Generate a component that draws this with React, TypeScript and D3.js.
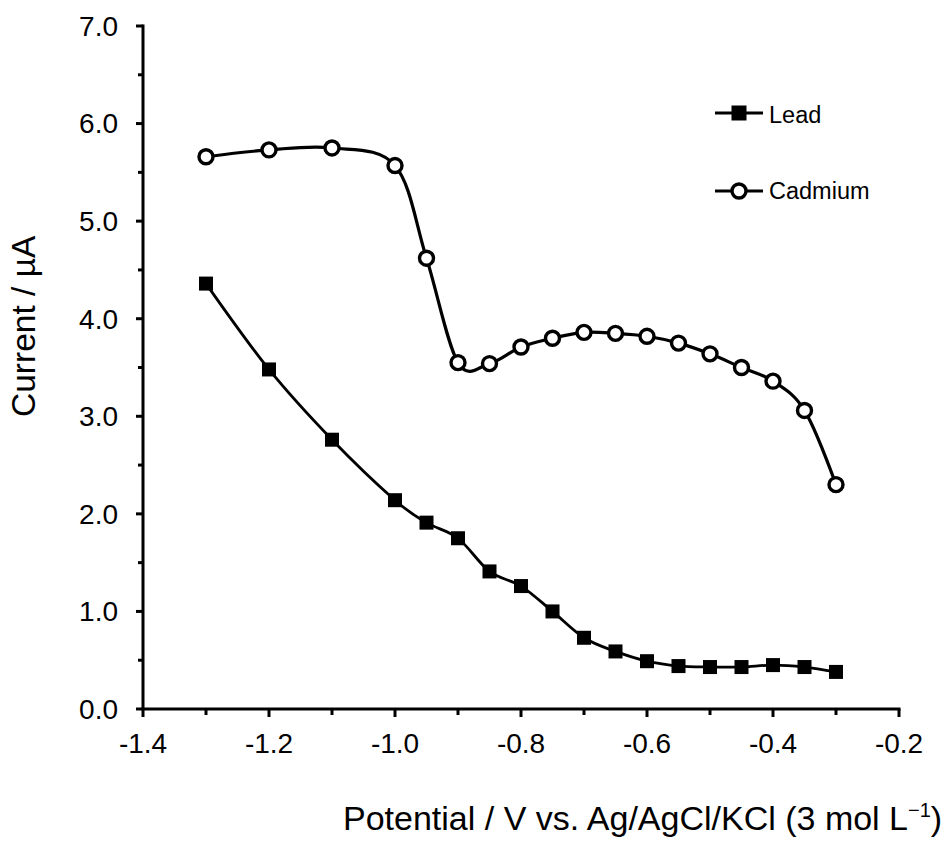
import React from "react";
import * as d3 from "d3";

// Potential (V vs. Ag/AgCl/KCl) at which each current was recorded
const potentials = [-1.3, -1.2, -1.1, -1.0, -0.95, -0.9, -0.85, -0.8, -0.75, -0.7, -0.65, -0.6, -0.55, -0.5, -0.45, -0.4, -0.35, -0.3];
// Peak currents (µA)
const leadCurrent = [4.36, 3.48, 2.76, 2.14, 1.91, 1.75, 1.41, 1.26, 1.0, 0.73, 0.59, 0.49, 0.44, 0.43, 0.43, 0.45, 0.43, 0.38];
const cadmiumCurrent = [5.66, 5.73, 5.75, 5.57, 4.62, 3.55, 3.54, 3.71, 3.8, 3.86, 3.85, 3.82, 3.75, 3.64, 3.5, 3.36, 3.06, 2.3];

const xMajorTicks = [-1.4, -1.2, -1.0, -0.8, -0.6, -0.4, -0.2];
const xMinorTicks = [-1.3, -1.1, -0.9, -0.7, -0.5, -0.3];
const yMajorTicks = [0, 1, 2, 3, 4, 5, 6, 7];
const yMinorTicks = [0.5, 1.5, 2.5, 3.5, 4.5, 5.5, 6.5];

const seriesNames = ["Lead", "Cadmium"];

const FONT = "'Liberation Sans', Arial, Helvetica, sans-serif";
const W = 943;
const H = 843;

export default function App() {
  const x = d3.scaleLinear().domain([-1.4, -0.2]).range([143, 899]);
  const y = d3.scaleLinear().domain([0, 7]).range([709, 26]);
  const fmt = (v: number) => d3.format(".1f")(v).replace("\u2212", "-");

  const smooth = d3
    .line<[number, number]>()
    .x((d) => x(d[0]))
    .y((d) => y(d[1]))
    .curve(d3.curveCardinal.tension(0));

  const leadPts: [number, number][] = potentials.map((p, i) => [p, leadCurrent[i]]);
  const cdPts: [number, number][] = potentials.map((p, i) => [p, cadmiumCurrent[i]]);

  const sq = 14;
  const r = 7;

  const [x0, x1] = x.range();
  const [y0, y1] = y.range();

  return (
    <svg width={W} height={H} style={{ position: "absolute", left: 0, top: 0, background: "#fff" }} fontFamily={FONT}>
      <rect width={W} height={H} fill="#fff" />

      {/* series */}
      <path d={smooth(leadPts) || ""} fill="none" stroke="#000" strokeWidth={2.8} />
      <path d={smooth(cdPts) || ""} fill="none" stroke="#000" strokeWidth={3.2} />
      {leadPts.map((d, i) => (
        <rect key={"l" + i} x={x(d[0]) - sq / 2} y={y(d[1]) - sq / 2} width={sq} height={sq} fill="#000" />
      ))}
      {cdPts.map((d, i) => (
        <circle key={"c" + i} cx={x(d[0])} cy={y(d[1])} r={r} fill="#fff" stroke="#000" strokeWidth={3.4} />
      ))}

      {/* axes */}
      <g stroke="#000" strokeWidth={3}>
        <line x1={x0} y1={y0} x2={x0} y2={y1 - 1.5} />
        <line x1={x0 - 1.5} y1={y0} x2={x1 + 1.5} y2={y0} />
        {yMajorTicks.map((t) => (
          <line key={"ym" + t} x1={x0 - 7} x2={x0} y1={y(t)} y2={y(t)} />
        ))}
        {yMinorTicks.map((t) => (
          <line key={"yn" + t} x1={x0 - 5} x2={x0} y1={y(t)} y2={y(t)} />
        ))}
        {xMajorTicks.map((t) => (
          <line key={"xm" + t} x1={x(t)} x2={x(t)} y1={y0} y2={y0 + 8} />
        ))}
        {xMinorTicks.map((t) => (
          <line key={"xn" + t} x1={x(t)} x2={x(t)} y1={y0} y2={y0 + 6} />
        ))}
      </g>

      <g fontSize={28} fill="#000">
        {yMajorTicks.map((t) => (
          <text key={"yl" + t} x={118} y={y(t)} dy="0.35em" textAnchor="end">
            {fmt(t)}
          </text>
        ))}
        {xMajorTicks.map((t) => (
          <text key={"xl" + t} x={x(t)} y={753} textAnchor="middle">
            {fmt(t)}
          </text>
        ))}
      </g>

      {/* axis titles */}
      <text x={343} y={830} fontSize={34} fill="#000">
        Potential / V vs. Ag/AgCl/KCl (3 mol L
        <tspan fontSize={20} dy={-13}>{"\u22121"}</tspan>
        <tspan dy={13}>)</tspan>
      </text>
      <text transform="translate(35,417) rotate(-90)" fontSize={33.5} fill="#000">
        Current / µA
      </text>

      {/* legend */}
      <g>
        <line x1={715} x2={763} y1={113} y2={113} stroke="#000" strokeWidth={3} />
        <rect x={739 - 7.5} y={113 - 7.5} width={15} height={15} fill="#000" />
        <text x={769} y={122.5} fontSize={23.5} fill="#000">{seriesNames[0]}</text>
        <line x1={715} x2={763} y1={191} y2={191} stroke="#000" strokeWidth={3} />
        <circle cx={739} cy={191} r={r} fill="#fff" stroke="#000" strokeWidth={3.4} />
        <text x={769} y={199} fontSize={23.5} fill="#000">{seriesNames[1]}</text>
      </g>
    </svg>
  );
}
